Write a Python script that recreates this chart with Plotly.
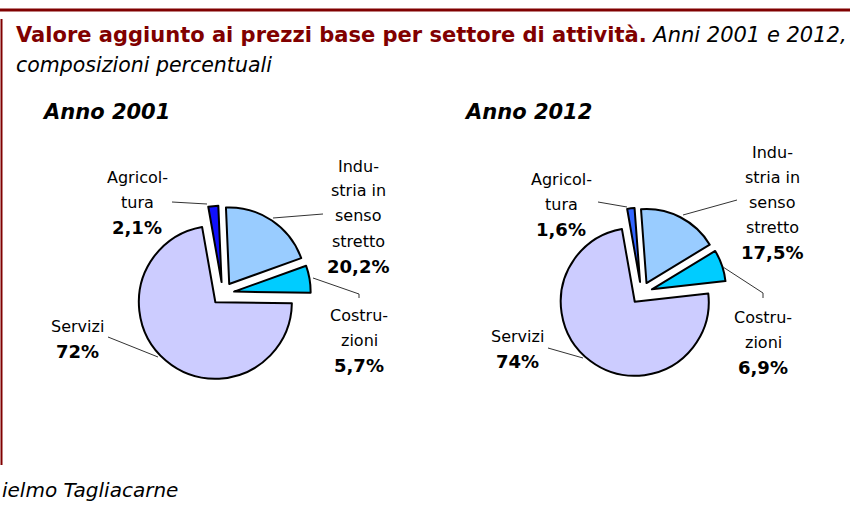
import plotly.graph_objects as go

# ---------------- data ----------------
sectors = ["Agricoltura", "Industria in senso stretto", "Costruzioni", "Servizi"]
values_2001 = [2.1, 20.2, 5.7, 72.0]
values_2012 = [1.6, 17.5, 6.9, 74.0]
pct_2001 = ["2,1%", "20,2%", "5,7%", "72%"]
pct_2012 = ["1,6%", "17,5%", "6,9%", "74%"]
name_lines = [["Agricol-", "tura"], ["Indu-", "stria in", "senso", "stretto"],
              ["Costru-", "zioni"], ["Servizi"]]
years = ["Anno 2001", "Anno 2012"]

# ---------------- styles / layout ----------------
W, H = 850, 507
DARKRED = "#800000"
FONT = "DejaVu Sans"
colors_2001 = ["#1010FF", "#99CCFF", "#00CCFF", "#CCCCFF"]
colors_2012 = ["#3366FF", "#99CCFF", "#00CCFF", "#CCCCFF"]
PULL = 0.15
radii = [76.5, 74]
centers = [(222.8, 293.5), (641.4, 292.9)]
LINE_H = 25

# label anchor (center x, first line y) in pixels for each sector, per pie
label_pos = [
    [(137, 177), (358, 166), (359, 315), (77, 326)],
    [(561, 179), (772, 152), (763, 317), (517, 336)],
]
# leader lines (pixel polylines)
leaders = [
    [[(172, 202), (207, 204)], [(273, 218), (323, 214)],
     [(313, 278), (359, 294), (359, 298)], [(108, 337), (158, 357)]],
    [[(598, 202), (627, 207)], [(683, 215), (737, 200)],
     [(723, 267), (763, 293), (763, 298)], [(548, 348), (583, 358)]],
]


def px(x, y):
    return x / W, 1 - y / H


fig = go.Figure()
for (cx, cy), R, vals, cols in zip(centers, radii, [values_2001, values_2012],
                                   [colors_2001, colors_2012]):
    half = R * (1 + PULL)
    x0, y1 = px(cx - half, cy - half)
    x1, y0 = px(cx + half, cy + half)
    fig.add_trace(go.Pie(
        labels=sectors, values=vals, sort=False, direction="clockwise", rotation=-10,
        pull=[PULL] * len(vals), textinfo="none", hoverinfo="label+percent",
        marker=dict(colors=cols, line=dict(color="black", width=2)),
        domain=dict(x=[x0, x1], y=[y0, y1]), showlegend=False,
    ))

annotations = []
shapes = []

# title
tx, ty = px(14, 35)
annotations.append(dict(
    x=tx, y=ty, xref="paper", yref="paper", xanchor="left", yanchor="middle", showarrow=False,
    text="<b><span style='color:%s'>Valore aggiunto ai prezzi base per settore di attività.</span></b> "
         "<i>Anni 2001 e 2012,</i>" % DARKRED,
    font=dict(family=FONT, size=21, color="black")))
tx, ty = px(14, 65)
annotations.append(dict(
    x=tx, y=ty, xref="paper", yref="paper", xanchor="left", yanchor="middle", showarrow=False,
    text="<i>composizioni percentuali</i>", font=dict(family=FONT, size=20.5, color="black")))

# year headings
for yr, xpos in zip(years, [40, 462]):
    hx, hy = px(xpos, 112)
    annotations.append(dict(
        x=hx, y=hy, xref="paper", yref="paper", xanchor="left", yanchor="middle", showarrow=False,
        text="<b><i>%s</i></b>" % yr, font=dict(family=FONT, size=21, color="black")))

# slice labels
for p, pcts in enumerate([pct_2001, pct_2012]):
    for i, lines in enumerate(name_lines):
        lx, ly0 = label_pos[p][i]
        all_lines = [(t, 16) for t in lines] + [("<b>%s</b>" % pcts[i], 18)]
        for k, (t, fs) in enumerate(all_lines):
            ax, ay = px(lx, ly0 + k * LINE_H)
            annotations.append(dict(
                x=ax, y=ay, xref="paper", yref="paper", xanchor="center", yanchor="middle",
                showarrow=False, text=t, font=dict(family=FONT, size=fs, color="black")))
        pts = leaders[p][i]
        for (a, b), (c, d) in zip(pts[:-1], pts[1:]):
            xa, ya = px(a, b)
            xc, yc = px(c, d)
            shapes.append(dict(type="line", xref="paper", yref="paper", x0=xa, y0=ya, x1=xc, y1=yc,
                               line=dict(color="#333333", width=1)))

# footer
fx, fy = px(0, 490)
annotations.append(dict(
    x=fx, y=fy, xref="paper", yref="paper", xanchor="left", yanchor="middle", showarrow=False,
    text="<i>ielmo Tagliacarne</i>", font=dict(family=FONT, size=20, color="black")))

# frame lines
x0, y0 = px(0, 10)
x1, y1 = px(W, 10)
shapes.append(dict(type="line", xref="paper", yref="paper", x0=x0, y0=y0, x1=x1, y1=y1,
                   line=dict(color=DARKRED, width=3)))
x0, y0 = px(1.5, 19)
x1, y1 = px(1.5, 465)
shapes.append(dict(type="line", xref="paper", yref="paper", x0=x0, y0=y0, x1=x1, y1=y1,
                   line=dict(color=DARKRED, width=2)))

fig.update_layout(
    width=W, height=H, margin=dict(l=0, r=0, t=0, b=0),
    paper_bgcolor="white", plot_bgcolor="white",
    annotations=annotations, shapes=shapes,
)
fig.write_html("out.html", config={"displayModeBar": False},
               post_script="document.body.style.margin='0';document.body.style.overflow='hidden';")
